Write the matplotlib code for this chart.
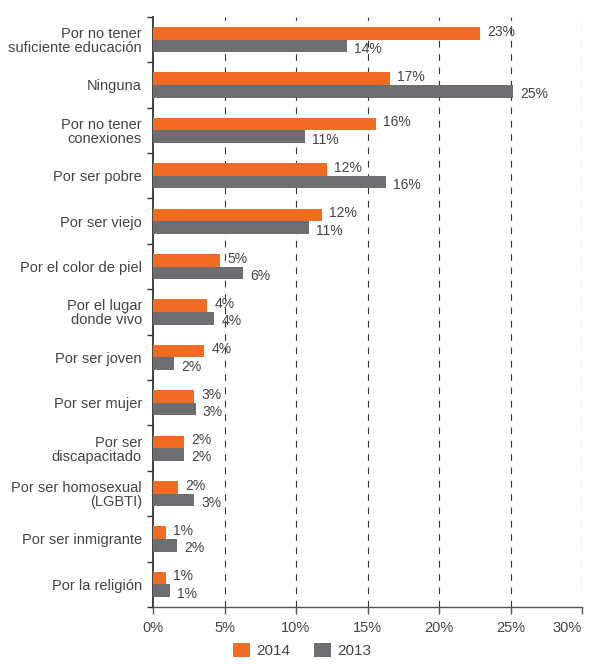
import matplotlib
matplotlib.use("Agg")
import matplotlib.pyplot as plt
from matplotlib.patches import Patch
import numpy as np

plt.rcParams['font.family'] = ['Liberation Sans', 'DejaVu Sans']

categories = [
    "Por no tener\nsuficiente educación",
    "Ninguna",
    "Por no tener\nconexiones",
    "Por ser pobre",
    "Por ser viejo",
    "Por el color de piel",
    "Por el lugar\ndonde vivo",
    "Por ser joven",
    "Por ser mujer",
    "Por ser\ndiscapacitado",
    "Por ser homosexual\n(LGBTI)",
    "Por ser inmigrante",
    "Por la religión",
]
values_2014 = [22.9, 16.6, 15.6, 12.2, 11.8, 4.7, 3.8, 3.6, 2.9, 2.2, 1.75, 0.9, 0.9]
values_2013 = [13.6, 25.2, 10.6, 16.3, 10.9, 6.3, 4.3, 1.5, 3.0, 2.2, 2.9, 1.7, 1.2]
labels_2014 = ["23%", "17%", "16%", "12%", "12%", "5%", "4%", "4%", "3%", "2%", "2%", "1%", "1%"]
labels_2013 = ["14%", "25%", "11%", "16%", "11%", "6%", "4%", "2%", "3%", "2%", "3%", "2%", "1%"]
xticks = [0, 5, 10, 15, 20, 25, 30]
series_names = ["2014", "2013"]

c14 = "#F26B22"
c13 = "#6D6E71"
txt = "#444444"

fig = plt.figure(figsize=(5.91, 6.64), dpi=100)
ax = fig.add_axes([153/591, 1-607/664, 429/591, (607-16.9)/664])

n = len(categories)
y = np.arange(n)
h = 0.278
ax.barh(y - h/2, values_2014, height=h, color=c14, zorder=3)
ax.barh(y + h/2, values_2013, height=h, color=c13, zorder=3)

for i in range(n):
    ax.annotate(labels_2014[i], (values_2014[i], y[i] - h/2), xytext=(5, 1.2),
                textcoords="offset points", va="center", ha="left", fontsize=10, color=txt, zorder=4)
    ax.annotate(labels_2013[i], (values_2013[i], y[i] + h/2), xytext=(5, -2.2),
                textcoords="offset points", va="center", ha="left", fontsize=10, color=txt, zorder=4)

ax.set_ylim(n - 0.5, -0.5)
ax.set_xlim(0, 30)

for xv in xticks[1:]:
    ax.axvline(xv, color="#333333", lw=0.8, linestyle=(0, (6, 6)), zorder=1)

ax.set_yticks(y)
ax.set_yticklabels(categories, fontsize=10.5, color=txt, linespacing=1.0)
ax.tick_params(axis="y", which="major", length=0, pad=8)
ax.set_yticks(np.arange(-0.5, n + 0.5, 1), minor=True)
ax.tick_params(axis="y", which="minor", length=4, width=1, color="#333333", direction="out")

ax.set_xticks(xticks)
ax.set_xticklabels([f"{v}%" for v in xticks], fontsize=10.5, color=txt)
ax.tick_params(axis="x", length=5, width=1, color="#555555", pad=5)
ax.get_xticklabels()[-1].set_horizontalalignment("right")
ax.get_xticklabels()[-1].set_x(30.4)

for s in ["top", "right"]:
    ax.spines[s].set_visible(False)
ax.spines["left"].set_color("#333333")
ax.spines["left"].set_linewidth(1.3)
ax.spines["bottom"].set_color("#555555")
ax.spines["bottom"].set_linewidth(1.0)

handles = [Patch(facecolor=c14, edgecolor="none"), Patch(facecolor=c13, edgecolor="none")]
fig.legend(handles, series_names, loc="lower center", bbox_to_anchor=(302/591, -0.012), ncol=2,
           frameon=False, fontsize=11, handlelength=1.1, handleheight=1.1, handletextpad=0.4,
           columnspacing=1.6, labelcolor=txt)

fig.savefig("out.png", dpi=100)
